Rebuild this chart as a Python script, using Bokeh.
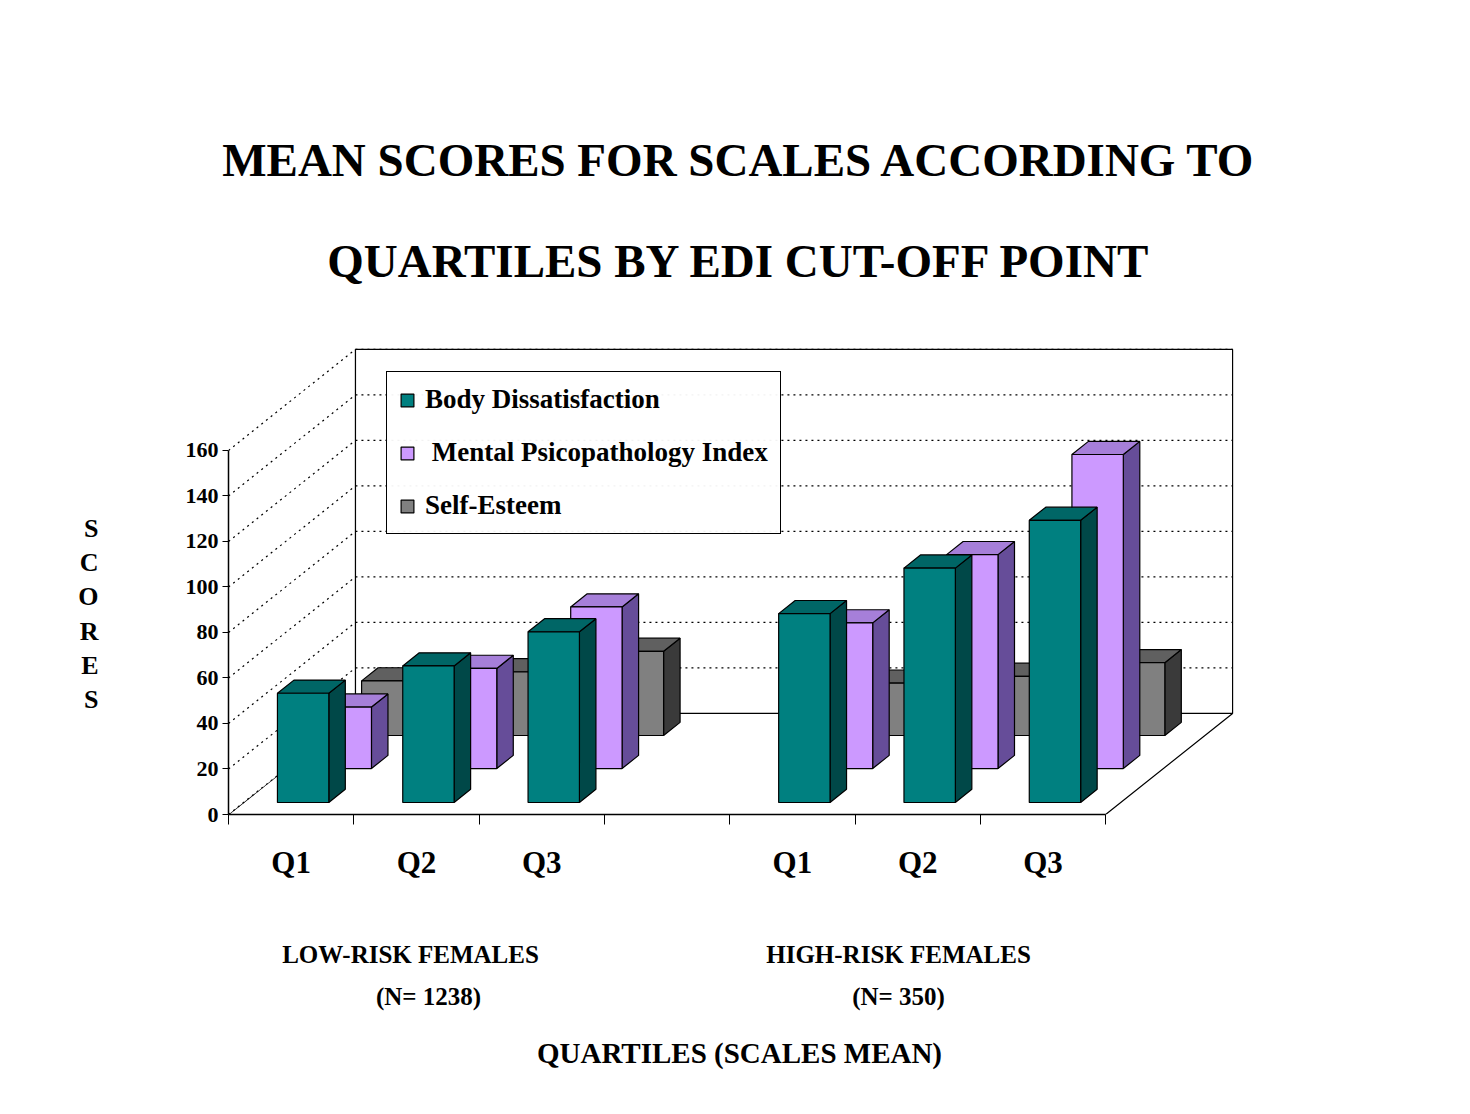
from bokeh.plotting import figure
from bokeh.models import Range1d, FixedTicker, Legend, LegendItem, LinearAxis, Title
from bokeh.embed import file_html
from bokeh.resources import INLINE

quartiles = ["Q1", "Q2", "Q3"]
groups = ["LOW-RISK FEMALES", "HIGH-RISK FEMALES"]
group_n = ["(N= 1238)", "(N= 350)"]
series = ["Body Dissatisfaction", " Mental Psicopathology Index", "Self-Esteem"]
body = [48, 60, 75, 83, 103, 124]
mental = [27, 44, 71, 64, 94, 138]
esteem = [24, 28, 37, 23, 26, 32]
slots = [0, 1, 2, 4, 5, 6]
yticks = [0, 20, 40, 60, 80, 100, 120, 140, 160]

FONT = "Liberation Serif"
DX, DY = 1.013, 44.4
W, T, OFF = 0.41, 0.13, 0.27

p = figure(width=1454, height=1098, output_backend="svg", toolbar_location=None,
           x_range=Range1d(0, 8.156), y_range=Range1d(0, 212.7),
           min_border_left=228, min_border_right=204, min_border_top=330, min_border_bottom=284,
           x_axis_type=None, y_axis_type=None)
p.grid.visible = False
p.outline_line_color = None

# floor and walls
p.patch([0, 7, 7 + DX, DX], [0, 0, DY, DY], fill_color="white", line_color="black", line_width=1.2)
p.quad(left=[DX], right=[7 + DX], bottom=[DY], top=[160 + DY], fill_color="white", line_color="black", line_width=1.2)
p.patch([0, DX, DX, 0], [0, DY, 160 + DY, 160], fill_color="white", line_color=None)
p.segment(x0=[DX], y0=[DY], x1=[DX], y1=[160 + DY], line_color="black", line_width=1.2)
gv = yticks[1:]
p.segment(x0=[DX] * len(gv), y0=[v + DY for v in gv], x1=[7 + DX] * len(gv), y1=[v + DY for v in gv],
          line_color="black", line_dash="2 4", line_width=1.2)
p.segment(x0=[0] * len(yticks), y0=yticks, x1=[DX] * len(yticks), y1=[v + DY for v in yticks],
          line_color="black", line_dash="2 4", line_width=1.2)

rows = [(esteem, 0.782, "#808080", "#606060", "#3a3a3a"),
        (mental, 0.455, "#CC99FF", "#A67FD9", "#664D99"),
        (body, 0.119, "#008080", "#006666", "#004848")]
fronts = {}
for vals, f, cf, ct, cs in rows:
    x0 = [s + OFF + f * DX for s in slots]
    x1 = [a + W for a in x0]
    y0 = f * DY
    y1 = [y0 + v for v in vals]
    tops_x = [[a, b, b + T * DX, a + T * DX] for a, b in zip(x0, x1)]
    tops_y = [[h, h, h + T * DY, h + T * DY] for h in y1]
    side_x = [[b, b + T * DX, b + T * DX, b] for b in x1]
    side_y = [[y0, y0 + T * DY, h + T * DY, h] for h in y1]
    p.patches(side_x, side_y, fill_color=cs, line_color="black", line_width=1.2)
    p.patches(tops_x, tops_y, fill_color=ct, line_color="black", line_width=1.2)
    fronts[cf] = p.quad(left=x0, right=x1, bottom=[y0] * 6, top=y1, fill_color=cf,
                        line_color="black", line_width=1.2)

def px_x(X):
    return (X - 228) / 125.3

def px_y(Y):
    return (814 - Y) / 2.275

txt = dict(major_label_text_font=FONT, major_label_text_font_style="bold", major_label_text_color="black")
hidden = dict(axis_line_color=None, major_tick_line_color=None, minor_tick_line_color=None)

# y axis
yax = LinearAxis(ticker=FixedTicker(ticks=yticks), bounds=(0, 160), major_label_text_font_size="22px",
                 major_tick_out=6, major_tick_in=0, minor_tick_out=0, axis_line_width=1.5,
                 axis_line_color="black", major_tick_line_color="black", major_label_standoff=4, **txt)
p.add_layout(yax, "left")
letters = "SCORES"
lpos = [px_y(528 + i * 34.2) for i in range(6)]
sax = LinearAxis(ticker=FixedTicker(ticks=lpos),
                 major_label_overrides={v: letters[i] for i, v in enumerate(lpos)},
                 major_label_text_font_size="26px", major_label_standoff=78, **hidden, **txt)
p.add_layout(sax, "left")

# x axes
centers = [s + 0.5 for s in slots]
xax = LinearAxis(ticker=FixedTicker(ticks=centers, minor_ticks=list(range(8))), bounds=(0, 7),
                 major_label_overrides={c: quartiles[i % 3] for i, c in enumerate(centers)},
                 major_label_text_font_size="31px", major_tick_out=0, major_tick_in=0,
                 minor_tick_out=10, minor_tick_in=0, axis_line_width=1.5, axis_line_color="black",
                 minor_tick_line_color="black", major_label_standoff=20, **txt)
p.add_layout(xax, "below")
gpos = [px_x(410), px_x(898)]
gax = LinearAxis(ticker=FixedTicker(ticks=gpos),
                 major_label_overrides={v: groups[i] for i, v in enumerate(gpos)},
                 major_label_text_font_size="25px", major_label_standoff=52, **hidden, **txt)
p.add_layout(gax, "below")
npos = [px_x(428), px_x(898)]
nax = LinearAxis(ticker=FixedTicker(ticks=npos),
                 major_label_overrides={v: group_n[i] for i, v in enumerate(npos)},
                 major_label_text_font_size="25px", major_label_standoff=6,
                 axis_label="QUARTILES (SCALES MEAN)", axis_label_text_font=FONT,
                 axis_label_text_font_style="bold", axis_label_text_font_size="29px",
                 axis_label_text_color="black", axis_label_standoff=24, **hidden, **txt)
p.add_layout(nax, "below")

legend = Legend(items=[LegendItem(label=series[0], renderers=[fronts["#008080"]]),
                       LegendItem(label=series[1], renderers=[fronts["#CC99FF"]]),
                       LegendItem(label=series[2], renderers=[fronts["#808080"]])],
                location=(158, 280), label_text_font=FONT, label_text_font_style="bold",
                label_text_color="black", label_text_font_size="27px", glyph_width=16,
                glyph_height=16, spacing=22, padding=12, border_line_color="black",
                border_line_alpha=1, border_line_width=1.2, label_standoff=10, margin=0)
p.add_layout(legend)

tkw = dict(text_font=FONT, text_font_style="bold", text_font_size="47px", text_color="black",
           align="center", offset=-10)
p.add_layout(Title(text="QUARTILES BY EDI CUT-OFF POINT", standoff=88, **tkw), "above")
p.add_layout(Title(text="MEAN SCORES FOR SCALES ACCORDING TO", standoff=6, **tkw), "above")

open("out.html", "w").write(file_html(p, INLINE))
